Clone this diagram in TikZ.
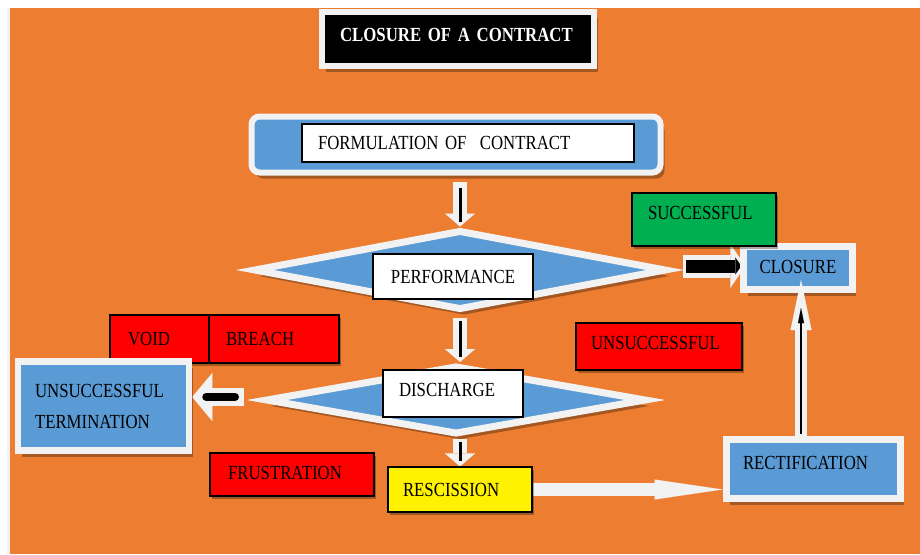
\documentclass[tikz,border=0pt]{standalone}
\usepackage{fontspec}
\setmainfont{Liberation Serif}[FakeStretch=0.84]
\usetikzlibrary{shapes.geometric,arrows.meta,shadows,calc}
\definecolor{bgorange}{HTML}{ED7D31}
\definecolor{boxblue}{HTML}{5B9BD5}
\definecolor{rimwhite}{HTML}{F2F2F2}
\definecolor{okgreen}{HTML}{00B050}
\pgfdeclarelayer{bglayer}
\pgfdeclarelayer{arrowlayer}
\pgfsetlayers{bglayer,arrowlayer,main}

\begin{document}
\begin{tikzpicture}[x=1pt,y=-1pt,
  every node/.style={font=\fontsize{20}{24}\selectfont, inner ysep=0pt},
  softshadow/.style={drop shadow={shadow xshift=4pt,shadow yshift=-6pt,opacity=0.3,fill=black}},
  thinshadow/.style={drop shadow={shadow xshift=2pt,shadow yshift=-2.5pt,opacity=0.3,fill=black}},
  rimbox/.style={rectangle, draw=rimwhite, fill=boxblue, line width=7pt, softshadow},
  rimdiamond/.style={diamond, draw=rimwhite, fill=boxblue, line width=7pt, inner sep=0pt, softshadow},
  labelbox/.style={rectangle, draw=black, fill=white, line width=1.2pt},
  flatbox/.style={rectangle, draw=black, line width=1.2pt, align=left, thinshadow},
  hollowdown/.style={draw=rimwhite, line width=14pt, -{Triangle[width=30pt,length=13pt,line width=0.01pt]}},
  barline/.style={draw=black, line width=3pt},
]
\useasboundingbox (0,0) rectangle (920,554);

% ---------- nodes ----------
\node[rectangle, fill=black, draw=rimwhite, line width=6pt, minimum height=54pt,
      text width=236pt, inner xsep=18pt, align=left, text=white, text depth=8pt,
      font=\fontsize{20}{24}\selectfont\bfseries, softshadow]
      (title) at (458,39) {CLOSURE OF A CONTRACT};

\node[rimbox, rounded corners=8pt, line width=6pt, minimum width=409pt, minimum height=56pt]
      (form) at (456,144.5) {};
\node[labelbox, text width=300pt, inner xsep=16pt, minimum height=38pt, align=left]
      (formtext) at (468,143) {FORMULATION OF~ CONTRACT};

\node[rimdiamond, minimum width=413pt, minimum height=80pt] (perf) at (460,270) {};
\node[labelbox, minimum width=160pt, minimum height=45pt, align=center]
      (perftext) at (453,276.5) {PERFORMANCE};

\node[rimdiamond, minimum width=381pt, minimum height=69pt] (disch) at (456,400) {};
\node[labelbox, text width=108pt, inner xsep=16pt, minimum height=47pt, align=left, text depth=7pt]
      (disctext) at (453,393.5) {DISCHARGE};

\node[rimbox, minimum width=108.5pt, minimum height=43pt, align=center, text depth=3pt]
      (closure) at (798,268) {CLOSURE};

\node[flatbox, fill=okgreen, text width=112pt, inner xsep=16pt, minimum height=53pt, text depth=13pt]
      (succ) at (704,219.5) {SUCCESSFUL};

\node[flatbox, fill=red, text width=63pt, inner xsep=18pt, minimum height=48pt]
      (void) at (159.5,339) {VOID};
\node[flatbox, fill=red, text width=96pt, inner xsep=17pt, minimum height=48pt]
      (breach) at (274,339) {BREACH};

\node[flatbox, fill=red, text width=136pt, inner xsep=15pt, minimum height=47pt, text depth=7pt]
      (unsucc) at (659,346.5) {UNSUCCESSFUL};

\node[rimbox, line width=6.5pt, minimum width=171pt, minimum height=89pt,
      text width=137pt, inner xsep=17pt, align=left]
      (term) at (103.5,406) {UNSUCCESSFUL\\[7pt]TERMINATION};

\node[flatbox, fill=red, text width=128pt, inner xsep=18pt, minimum height=43pt, text depth=3pt]
      (frust) at (292,474.5) {FRUSTRATION};

\node[flatbox, fill=yellow, text width=114pt, inner xsep=15pt, minimum height=45pt]
      (resc) at (460,489.5) {RESCISSION};

\node[rimbox, minimum width=174pt, minimum height=59pt, text width=140pt,
      inner xsep=17pt, align=left, text depth=12pt]
      (rect) at (813,469) {RECTIFICATION};

% ---------- background ----------
\begin{pgfonlayer}{bglayer}
  \fill[white] (0,0) rectangle (920,554);
  \fill[rimwhite] (7,8) rectangle (10,554);
  \fill[bgorange] (10,8) rectangle (920,554);
\end{pgfonlayer}

% ---------- connectors ----------
\coordinate (perftip) at ($(perf.center)+(223,-4)$);
\coordinate (disctip) at ($(disch.center)+(-212,-3)$);
\begin{pgfonlayer}{arrowlayer}
  % formulation -> performance
  \draw[hollowdown, shorten <=6pt] (form.south -| perf.north) -- (perf.north);
  \draw[barline, shorten <=12pt, shorten >=5pt] (form.south -| perf.north) -- (perf.north);
  % performance -> discharge
  \draw[hollowdown, shorten <=4pt] (perf.south) -- (disch.north -| perf.south);
  \draw[barline, shorten <=7pt, shorten >=5pt] (perf.south) -- (disch.north -| perf.south);
  % discharge -> rescission
  \draw[hollowdown, shorten <=1pt] (disch.south -| perf.south) -- (resc.north);
  \draw[barline, shorten <=4pt, shorten >=5pt] (disch.south -| perf.south) -- (resc.north);
  % performance -> closure
  \draw[draw=rimwhite, line width=23pt, -{Triangle[width=44pt,length=15pt,line width=0.01pt]},
        shorten >=-5pt] (perftip) -- (closure.west |- perftip);
  \draw[draw=black, line width=13pt, -{Triangle[width=17pt,length=6pt,line width=0.01pt]},
        shorten <=3pt, shorten >=-1pt] (perftip) -- (closure.west |- perftip);
  % discharge -> unsuccessful termination
  \draw[draw=rimwhite, line width=18pt, -{Triangle[width=48pt,length=20pt,line width=0.01pt]}]
        (disctip) -- (term.east |- disctip);
  \draw[draw=black, line width=8pt, line cap=round, shorten <=9pt, shorten >=14pt]
        (disctip) -- (term.east |- disctip);
  % rescission -> rectification
  \draw[draw=rimwhite, line width=13pt, -{Triangle[width=20pt,length=68pt,line width=0.01pt]}]
        (resc.east) -- (rect.west |- resc.east);
\end{pgfonlayer}

% rectification -> closure
\coordinate (upfoot) at ($(rect.north -| closure.south)+(3,0)$);
\coordinate (uphead) at ($(closure.south)+(3,0)$);
\draw[draw=rimwhite, line width=12pt, -{Triangle[width=21pt,length=50pt,line width=0.01pt]},
      shorten >=-13pt] (upfoot) -- (uphead);
\draw[draw=black, line width=1.2pt, -{Triangle[width=6pt,length=15pt,line width=0.01pt]},
      shorten <=2pt, shorten >=15pt] (upfoot) -- (uphead);
\end{tikzpicture}
\end{document}
